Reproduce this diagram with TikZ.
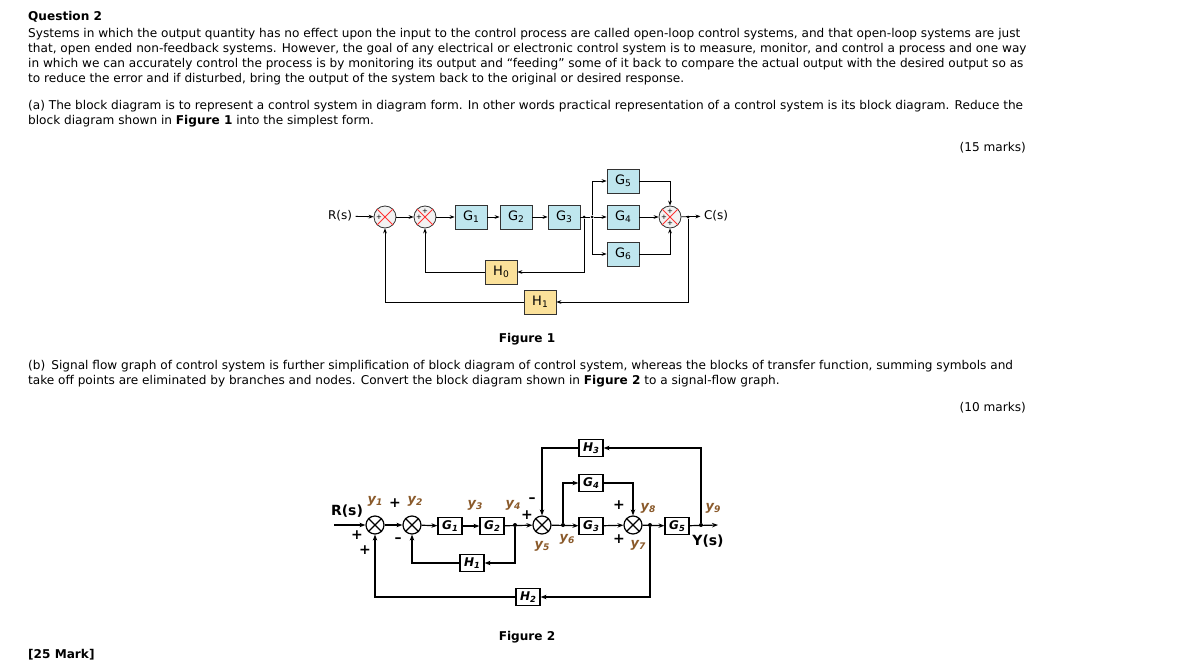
\documentclass[tikz,border=0pt]{standalone}
\usepackage{fontspec}
\setmainfont{DejaVu Sans}
\usetikzlibrary{arrows.meta,calc}
\definecolor{gbox}{HTML}{BFE6EE}
\definecolor{hbox}{HTML}{FBE19A}
\definecolor{ybrown}{HTML}{8A5A2B}
\tikzset{
  txt/.style={anchor=west,inner sep=0pt,font=\fontsize{12.1}{14}\selectfont},
  blkA/.style={draw=black!80,thick,fill=gbox,minimum width=32pt,minimum height=24pt,inner sep=0pt,font=\fontsize{13}{14}\selectfont},
  blkH/.style={blkA,fill=hbox},
  sumA/.style={circle,draw=black!80,thick,fill=gray!10,minimum size=22pt,inner sep=0pt},
  blkB/.style={draw,very thick,minimum width=24pt,minimum height=17pt,inner sep=0pt,font=\bfseries\itshape\fontsize{12}{13}\selectfont},
  sumB/.style={circle,draw,very thick,minimum size=18pt,inner sep=0pt},
  arr/.style={-{Stealth[length=5pt]},thick},
  arrB/.style={-{Stealth[length=6pt]},very thick},
  lbl/.style={font=\itshape\bfseries\fontsize{13}{14}\selectfont,text=ybrown,inner sep=0pt},
  sgn/.style={font=\bfseries\fontsize{14}{14}\selectfont,inner sep=0pt},
  dot/.style={circle,fill,inner sep=0pt,minimum size=4pt}
}
\newcommand{\redx}[1]{\draw[red!80,thick] (#1.45) -- (#1.225) (#1.135) -- (#1.315);}
\newcommand{\crossx}[1]{\draw[very thick] (#1.45) -- (#1.225) (#1.135) -- (#1.315);}
\newcommand{\sub}[1]{\raisebox{-0.3ex}{\scalebox{0.7}{#1}}}
\begin{document}
\begin{tikzpicture}[x=1pt,y=-1pt]
\useasboundingbox (0,0) rectangle (1180,669);
% Text of the question
\node[txt,font=\bfseries\fontsize{12.1}{14}\selectfont] (q) at (28,17) {Question 2};
\node[txt] (l1) at (28,34) {Systems in which the output quantity has no effect upon the input to the control process are called open-loop control systems, and that open-loop systems are just};
\node[txt] (l2) at (28,49) {that, open ended non-feedback systems. However, the goal of any electrical or electronic control system is to measure, monitor, and control a process and one way};
\node[txt] (l3) at (28,64) {in which we can accurately control the process is by monitoring its output and “feeding” some of it back to compare the actual output with the desired output so as};
\node[txt] (l4) at (28,79) {to reduce the error and if disturbed, bring the output of the system back to the original or desired response.};
\node[txt] (a1) at (28,106) {(a) The block diagram is to represent a control system in diagram form. In other words practical representation of a control system is its block diagram. Reduce the};
\node[txt] (a2) at (28,121) {block diagram shown in \textbf{Figure 1} into the simplest form.};
\node[txt,anchor=east] (m15) at (1026,148) {(15 marks)};
\node[txt,anchor=center,font=\bfseries\fontsize{12.1}{14}\selectfont] (f1) at (527,339) {Figure 1};
\node[txt] (b1) at (28,366) {(b)\enspace Signal flow graph of control system is further simplification of block diagram of control system, whereas the blocks of transfer function, summing symbols and};
\node[txt] (b2) at (28,381) {take off points are eliminated by branches and nodes. Convert the block diagram shown in \textbf{Figure 2} to a signal-flow graph.};
\node[txt,anchor=east] (m10) at (1026,408) {(10 marks)};
\node[txt,anchor=center,font=\bfseries\fontsize{12.1}{14}\selectfont] (f2) at (527,637) {Figure 2};
\node[txt,font=\bfseries\fontsize{12.1}{14}\selectfont] (mk) at (28,655) {[25 Mark]};
% Figure 1
\begin{scope}[font=\fontsize{12}{14}\selectfont]
\node (R1) at (340,216) {R(s)};
\node[sumA] (s1) at (385,217) {}; \redx{s1}
\node[sumA] (s2) at (425,217) {}; \redx{s2}
\node[blkA] (g1) at (471,217) {G\sub{1}};
\node[blkA] (g2) at (516,217) {G\sub{2}};
\node[blkA] (g3) at (564,217) {G\sub{3}};
\node[blkA] (g5) at (623,181) {G\sub{5}};
\node[blkA] (g4) at (623,217) {G\sub{4}};
\node[blkA] (g6) at (623,254) {G\sub{6}};
\node[sumA] (s3) at (670,217) {}; \redx{s3}
\node (C1) at (716,216) {C(s)};
\node[blkH] (h0) at (501,272) {H\sub{0}};
\node[blkH] (h1) at (540,302) {H\sub{1}};
\node[dot,minimum size=3pt] (d1) at (584,217) {};
\node[dot,minimum size=3pt] (d2) at (592,217) {};
\node[dot,minimum size=3pt] (d3) at (688,217) {};
\end{scope}
\draw[arr] (R1) -- (s1);
\draw[arr] (s1) -- (s2);
\draw[arr] (s2) -- (g1);
\draw[arr] (g1) -- (g2);
\draw[arr] (g2) -- (g3);
\draw[arr] (d2) -- (g4);
\draw[thick] (g3) -- (d2);
\draw[arr] (d2) |- (g5);
\draw[arr] (d2) |- (g6);
\draw[arr] (g5) -| (s3);
\draw[arr] (g6) -| (s3);
\draw[arr] (g4) -- (s3);
\draw[arr] (s3) -- (C1);
\draw[arr] (d1) |- (h0);
\draw[arr] (h0) -| (s2);
\draw[arr] (d3) |- (h1);
\draw[arr] (h1) -| (s1);
\foreach \n/\a in {s1/180,s2/180,s2/270,s3/90,s3/180,s3/270}
  \node[font=\fontsize{7}{7}\selectfont,inner sep=0pt] at ($(\n)+(\a:6)$) {+};
% Figure 2
\node[font=\bfseries\fontsize{14}{14}\selectfont] (R2) at (347,511) {R(s)};
\coordinate (in2) at (334,525);
\node[sumB] (t1) at (375,525) {}; \crossx{t1}
\node[sumB] (t2) at (412,525) {}; \crossx{t2}
\node[blkB] (k1) at (450,526) {G\sub{1}};
\node[blkB] (k2) at (492,526) {G\sub{2}};
\node[dot] (e1) at (515,525) {};
\node[sumB] (t3) at (542,525) {}; \crossx{t3}
\node[dot] (e2) at (563,525) {};
\node[blkB] (k3) at (591,526) {G\sub{3}};
\node[blkB] (k4) at (591,483) {G\sub{4}};
\node[sumB] (t4) at (633,525) {}; \crossx{t4}
\node[dot] (e3) at (650,525) {};
\node[blkB] (k5) at (677,526) {G\sub{5}};
\node[dot] (e4) at (701,525) {};
\coordinate (out2) at (718,525);
\node[blkB] (k6) at (591,448) {H\sub{3}};
\node[blkB] (k7) at (472,563) {H\sub{1}};
\node[blkB] (k8) at (528,597) {H\sub{2}};
\node[font=\bfseries\fontsize{14}{14}\selectfont] (Y2) at (708,541) {Y(s)};
\draw[arrB] (in2) -- (t1);
\draw[arrB] (t1) -- (t2);
\draw[arrB] (t2) -- (k1);
\draw[arrB] (k1) -- (k2);
\draw[arrB] (k2) -- (t3);
\draw[arrB] (t3) -- (k3);
\draw[arrB] (k3) -- (t4);
\draw[arrB] (t4) -- (k5);
\draw[arrB] (k5) -- (out2);
\draw[arrB] (e2) |- (k4);
\draw[arrB] (k4) -| (t4);
\draw[arrB] (e4) |- (k6);
\draw[arrB] (k6) -| (t3);
\draw[arrB] (e1) |- (k7);
\draw[arrB] (k7) -| (t2);
\draw[arrB] (e3) |- (k8);
\draw[arrB] (k8) -| (t1);
\node[lbl] at (375,501) {y\sub{1}};
\node[lbl] at (415,501) {y\sub{2}};
\node[lbl] at (475,505) {y\sub{3}};
\node[lbl] at (513,505) {y\sub{4}};
\node[lbl] at (542,546) {y\sub{5}};
\node[lbl] at (567,539) {y\sub{6}};
\node[lbl] at (638,545) {y\sub{7}};
\node[lbl] at (648,508) {y\sub{8}};
\node[lbl] at (713,508) {y\sub{9}};
\node[sgn] at (395,503) {+};
\node[sgn] at (398,540) {–};
\node[sgn] at (357,535) {+};
\node[sgn] at (365,550) {+};
\node[sgn] at (532,500) {–};
\node[sgn] at (527,515) {+};
\node[sgn] at (619,505) {+};
\node[sgn] at (619,539) {+};
\end{tikzpicture}
\end{document}
